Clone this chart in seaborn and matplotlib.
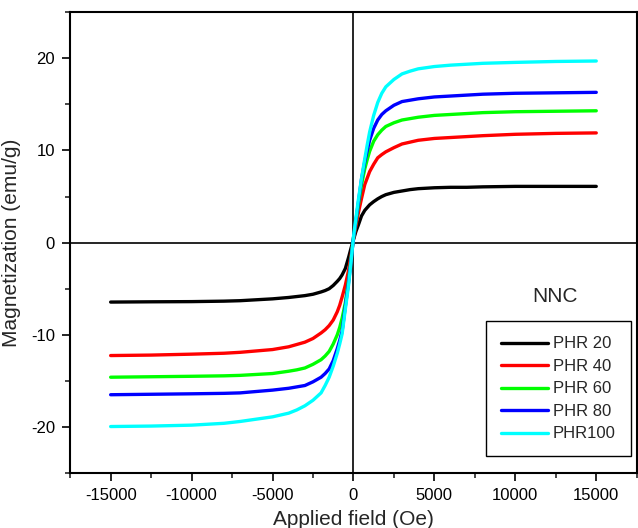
import matplotlib
matplotlib.use("Agg")
import matplotlib.pyplot as plt
import seaborn as sns
import pandas as pd
from matplotlib.ticker import MultipleLocator

# applied field (Oe), shared by all samples
field = [-15000, -12500, -10000, -8000, -7000, -6000, -5000, -4000, -3500, -3000,
         -2500, -2000, -1750, -1500, -1250, -1000, -850, -700, -500, -300,
         -150, 0, 150, 300, 500, 700, 850, 1000, 1250, 1500,
         1750, 2000, 2500, 3000, 3500, 4000, 5000, 6000, 7000, 8000,
         10000, 12500, 15000]

# magnetization (emu/g)
phr20 = [-6.45, -6.42, -6.4, -6.35, -6.3, -6.2, -6.1, -5.95, -5.85, -5.75,
         -5.6, -5.35, -5.2, -5.0, -4.65, -4.2, -3.9, -3.5, -2.8, -1.6,
         -0.6, 0.3, 1.2, 1.9, 2.9, 3.5, 3.8, 4.1, 4.45, 4.75,
         5.0, 5.2, 5.45, 5.6, 5.75, 5.85, 5.95, 6.0, 6.0, 6.05,
         6.1, 6.1, 6.1]
phr40 = [-12.25, -12.2, -12.1, -12.0, -11.9, -11.75, -11.6, -11.3, -11.05, -10.8,
         -10.4, -9.8, -9.45, -9.0, -8.4, -7.5, -6.8, -5.9, -4.6, -3.0,
         -1.4, 0.4, 1.8, 3.2, 4.8, 6.3, 7.0, 7.7, 8.5, 9.2,
         9.55, 9.85, 10.3, 10.7, 10.9, 11.1, 11.3, 11.4, 11.5, 11.6,
         11.75, 11.85, 11.9]
phr60 = [-14.6, -14.55, -14.5, -14.45, -14.4, -14.3, -14.2, -13.95, -13.8, -13.6,
         -13.2, -12.7, -12.3, -11.8, -11.0, -10.0, -9.2, -8.2, -6.5, -4.0,
         -1.8, 0.5, 2.2, 4.0, 6.3, 8.0, 9.0, 9.9, 11.0, 11.7,
         12.2, 12.6, 13.0, 13.3, 13.45, 13.6, 13.8, 13.9, 14.0, 14.1,
         14.2, 14.25, 14.3]
phr80 = [-16.5, -16.45, -16.4, -16.35, -16.3, -16.15, -16.0, -15.8, -15.65, -15.5,
         -15.1, -14.6, -14.2, -13.7, -12.8, -11.5, -10.6, -9.6, -6.9, -4.3,
         -2.0, 0.5, 2.4, 4.3, 6.9, 8.8, 10.0, 11.1, 12.4, 13.3,
         13.9, 14.3, 14.9, 15.3, 15.45, 15.6, 15.8, 15.9, 16.0, 16.1,
         16.2, 16.25, 16.3]
phr100 = [-19.95, -19.9, -19.8, -19.6, -19.4, -19.15, -18.9, -18.5, -18.15, -17.7,
          -17.1, -16.3, -15.5, -14.6, -13.4, -12.0, -11.0, -9.9, -7.2, -4.6,
          -2.1, 0.6, 2.6, 4.6, 7.0, 9.1, 10.6, 12.0, 13.8, 15.2,
          16.2, 16.9, 17.7, 18.3, 18.6, 18.85, 19.1, 19.25, 19.35, 19.45,
          19.55, 19.65, 19.7]

labels = ["PHR 20", "PHR 40", "PHR 60", "PHR 80", "PHR100"]
colors = ["#000000", "#ff0000", "#00ff00", "#0000ff", "#00ffff"]
series = [phr20, phr40, phr60, phr80, phr100]

sns.set_style("ticks")
plt.rcParams["font.family"] = ["Liberation Sans", "DejaVu Sans"]
plt.rcParams["axes.unicode_minus"] = False

fig = plt.figure(figsize=(6.38, 5.28), dpi=100)
ax = fig.add_axes([0.110, 0.104, 0.888, 0.873])

ax.axhline(0, color="black", lw=1.2, zorder=1)
ax.axvline(0, color="black", lw=1.2, zorder=1)

for lab, col, vals in zip(labels, colors, series):
    df = pd.DataFrame({"field": field, "M": vals})
    sns.lineplot(data=df, x="field", y="M", color=col, linewidth=2.4,
                 label=lab, sort=False, ax=ax, zorder=3)

ax.set_xlim(-17500, 17500)
ax.set_ylim(-25, 25)
ax.set_xticks([-15000, -10000, -5000, 0, 5000, 10000, 15000])
ax.xaxis.set_minor_locator(MultipleLocator(2500))
ax.yaxis.set_major_locator(MultipleLocator(10))
ax.yaxis.set_minor_locator(MultipleLocator(5))
ax.tick_params(which="major", direction="out", length=6, width=1.2,
               labelsize=12, pad=5, colors="black")
ax.tick_params(which="minor", direction="out", length=3.5, width=1.2)

for s in ax.spines.values():
    s.set_visible(True)
    s.set_color("black")
    s.set_linewidth(1.5)

ax.set_xlabel("Applied field (Oe)", fontsize=15, labelpad=5)
ax.set_ylabel("Magnetization (emu/g)", fontsize=15, labelpad=7)

ax.text(0.855, 0.384, "NNC", transform=ax.transAxes, fontsize=15,
        ha="center", va="center")

leg = ax.legend(loc="lower right", bbox_to_anchor=(1.004, 0.018),
                fontsize=12, handlelength=2.8, labelspacing=0.45,
                handletextpad=0.3, borderpad=0.9, fancybox=False,
                frameon=True, edgecolor="black", framealpha=1)
leg.get_frame().set_linewidth(1.0)

fig.savefig("out.png", dpi=100)
